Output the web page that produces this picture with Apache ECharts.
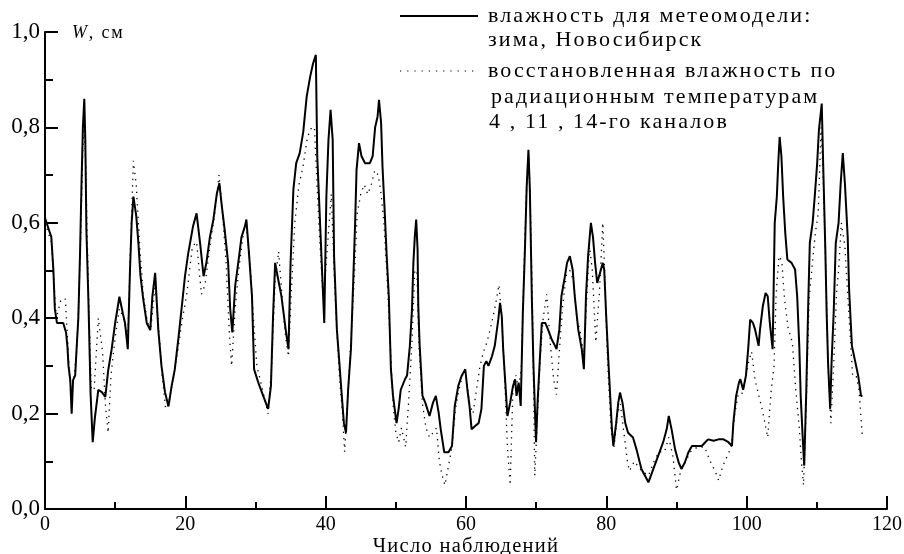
<!DOCTYPE html>
<html><head><meta charset="utf-8">
<script src="https://cdn.jsdelivr.net/npm/echarts@6/dist/echarts.min.js"></script>
<style>html,body{margin:0;padding:0;background:#fff}#c{width:904px;height:554px}</style>
</head><body><div id="c"></div>
<script>
// Solid line: humidity for the meteo model (x = observation number, y = W, cm)
const solidX = [0,0.9,1.2,1.4,1.7,2.6,3.0,3.2,3.35,3.6,3.8,4.0,4.3,4.5,4.75,5.0,5.2,5.4,5.6,5.75,5.9,6.2,6.5,6.8,7.1,7.6,8.1,8.6,9.0,9.5,10.0,10.6,11.1,11.4,11.8,12.1,12.35,12.6,13.0,13.3,13.6,14.0,14.5,15.0,15.3,15.7,16.15,16.6,17.1,17.6,18.05,18.5,19.0,19.5,19.95,20.4,21.1,21.6,22.1,22.6,23.0,23.5,24.0,24.5,24.85,25.2,25.6,26.1,26.4,26.7,27.1,27.6,28.0,28.5,28.7,29.1,29.5,29.8,30.4,31.1,31.8,32.2,32.5,32.8,33.25,33.7,34.3,34.7,35.0,35.4,35.8,36.3,36.8,37.3,37.8,38.2,38.6,38.8,39.2,39.6,39.8,40.1,40.4,40.7,41.0,41.2,41.6,41.95,42.3,42.6,42.9,43.2,43.6,43.95,44.2,44.4,44.75,45.1,45.6,46.3,46.7,47.05,47.4,47.6,47.9,48.1,48.4,48.7,49.0,49.3,49.6,50.1,50.4,50.7,51.3,51.6,52.0,52.3,52.5,52.7,52.9,53.1,53.2,53.4,53.8,54.2,54.8,55.3,55.7,56.1,56.4,56.9,57.5,58.0,58.4,58.9,59.4,59.9,60.2,60.5,60.8,61.3,61.8,62.2,62.55,62.9,63.2,63.7,64.1,64.6,64.85,65.1,65.3,65.6,65.9,66.3,66.7,67.0,67.2,67.5,67.8,68.1,68.4,68.65,68.9,69.1,69.4,69.6,69.98,70.2,70.5,70.8,71.3,71.7,72.2,72.7,72.9,73.3,73.6,74.1,74.4,74.8,75.2,75.5,76.0,76.5,76.8,77.1,77.4,77.8,78.1,78.4,78.7,79.1,79.5,79.7,79.96,80.3,80.8,81.0,81.4,81.7,81.95,82.3,82.7,83.1,83.8,84.3,85.0,86.0,86.7,87.4,88.1,88.6,88.9,89.3,89.8,90.3,90.7,91.2,91.7,92.2,93.6,94.1,94.5,95.3,96.0,96.7,97.4,97.9,98.1,98.5,98.9,99.1,99.5,99.9,100.25,100.5,100.9,101.2,101.7,101.9,102.3,102.7,103.0,103.3,103.7,104.0,104.3,104.5,104.7,104.95,105.2,105.5,105.8,106.4,106.9,107.2,107.5,107.7,108.0,108.2,108.5,108.8,109.0,109.4,109.7,110.05,110.3,110.7,110.9,111.2,111.4,111.6,111.9,112.1,112.4,112.7,113.1,113.4,113.7,114.0,114.4,114.6,115.0,115.4,115.9,116.3,116.5];
const solidY = [0.61,0.57,0.50,0.42,0.39,0.39,0.37,0.34,0.30,0.27,0.20,0.27,0.28,0.335,0.40,0.54,0.68,0.80,0.86,0.77,0.585,0.43,0.24,0.14,0.19,0.25,0.245,0.235,0.29,0.335,0.39,0.445,0.41,0.39,0.335,0.495,0.60,0.655,0.615,0.56,0.49,0.44,0.39,0.375,0.445,0.495,0.375,0.30,0.245,0.215,0.258,0.293,0.356,0.425,0.488,0.535,0.593,0.62,0.558,0.488,0.516,0.57,0.607,0.662,0.683,0.635,0.586,0.516,0.418,0.37,0.467,0.523,0.57,0.593,0.607,0.53,0.446,0.293,0.265,0.237,0.21,0.258,0.404,0.516,0.48,0.446,0.376,0.335,0.516,0.67,0.725,0.746,0.79,0.865,0.907,0.934,0.952,0.74,0.60,0.46,0.39,0.655,0.774,0.837,0.774,0.53,0.376,0.307,0.237,0.18,0.16,0.25,0.335,0.488,0.60,0.711,0.767,0.74,0.725,0.725,0.74,0.80,0.823,0.858,0.81,0.718,0.628,0.53,0.446,0.293,0.237,0.18,0.21,0.25,0.272,0.28,0.342,0.418,0.516,0.57,0.607,0.544,0.425,0.342,0.237,0.223,0.195,0.223,0.237,0.202,0.167,0.119,0.119,0.132,0.216,0.258,0.28,0.293,0.25,0.216,0.167,0.174,0.18,0.21,0.30,0.31,0.30,0.32,0.342,0.397,0.432,0.404,0.335,0.265,0.195,0.223,0.258,0.272,0.237,0.265,0.216,0.411,0.544,0.676,0.753,0.67,0.432,0.307,0.14,0.223,0.307,0.39,0.39,0.376,0.356,0.342,0.335,0.376,0.446,0.488,0.516,0.53,0.502,0.446,0.376,0.335,0.293,0.446,0.53,0.60,0.57,0.516,0.474,0.495,0.516,0.502,0.411,0.307,0.167,0.132,0.18,0.223,0.244,0.223,0.18,0.16,0.15,0.125,0.084,0.056,0.084,0.112,0.14,0.167,0.195,0.167,0.125,0.098,0.084,0.098,0.119,0.132,0.132,0.14,0.146,0.143,0.146,0.146,0.14,0.132,0.18,0.237,0.265,0.272,0.25,0.28,0.342,0.397,0.39,0.376,0.342,0.376,0.425,0.453,0.446,0.39,0.335,0.60,0.655,0.725,0.78,0.74,0.655,0.579,0.523,0.516,0.502,0.446,0.342,0.237,0.146,0.091,0.25,0.446,0.558,0.60,0.655,0.725,0.795,0.85,0.725,0.55,0.411,0.307,0.21,0.307,0.411,0.558,0.60,0.683,0.746,0.683,0.57,0.46,0.342,0.314,0.279,0.237,0.237];

// Dotted line: humidity restored from radiation temperatures of channels 4, 11, 14
const dotX = [0,0.9,1.3,1.6,2.3,2.9,3.2,3.5,3.8,4.1,4.5,4.8,5.1,5.4,5.6,5.8,6.0,6.3,6.6,7.0,7.6,8.2,8.6,9.0,9.4,10.0,10.6,11.2,11.8,12.2,12.6,13.0,13.5,14.0,14.6,15.1,15.7,16.2,16.7,17.2,17.6,18.1,19.0,19.6,20.2,21.0,21.6,22.3,22.8,23.5,24.2,24.8,25.3,25.8,26.3,26.6,27.1,27.6,28.2,28.8,29.3,29.7,30.2,31.0,31.8,32.3,32.8,33.3,33.8,34.3,34.7,35.1,35.6,36.2,36.8,37.4,38.0,38.4,38.8,39.2,39.6,40.0,40.4,40.8,41.2,41.6,42.0,42.4,42.7,43.1,43.5,44.0,44.5,45.0,45.5,46.0,46.5,47.0,47.5,47.9,48.3,48.7,49.1,49.6,50.0,50.4,50.8,51.4,51.8,52.3,52.7,53.0,53.3,53.8,54.3,54.8,55.3,55.8,56.2,56.6,57.0,57.5,58.0,58.5,59.0,59.5,60.0,60.5,61.0,61.5,62.0,62.5,63.0,63.5,64.1,64.7,65.1,65.5,65.9,66.3,66.7,67.1,67.5,67.9,68.3,68.7,68.95,69.2,69.5,69.8,70.2,70.6,71.0,71.5,72.0,72.5,72.9,73.3,73.8,74.3,74.8,75.3,75.8,76.3,76.8,77.2,77.6,78.0,78.5,79.0,79.5,79.8,80.2,80.7,81.1,81.6,82.0,82.5,83.0,83.3,84.0,85.0,86.0,86.8,87.5,88.3,88.9,89.5,90.0,90.6,91.3,92.0,93.0,94.0,94.8,95.5,96.0,96.6,97.2,97.8,98.3,98.8,99.3,99.8,100.3,100.7,101.2,101.7,102.2,102.6,103.0,103.5,103.9,104.2,104.6,105.0,105.4,105.9,106.5,107.0,107.5,107.8,108.1,108.5,108.9,109.4,109.8,110.2,110.6,110.9,111.2,111.6,112.0,112.4,112.8,113.1,113.5,114.0,114.6,115.1,115.6,116.0,116.5];
const dotY = [0.60,0.56,0.47,0.40,0.44,0.44,0.36,0.28,0.24,0.27,0.33,0.43,0.58,0.76,0.80,0.72,0.58,0.40,0.25,0.25,0.40,0.33,0.22,0.16,0.28,0.36,0.42,0.40,0.36,0.55,0.73,0.68,0.55,0.45,0.39,0.38,0.47,0.38,0.28,0.21,0.22,0.26,0.34,0.40,0.45,0.55,0.56,0.45,0.47,0.55,0.62,0.70,0.62,0.52,0.36,0.30,0.42,0.50,0.57,0.58,0.50,0.40,0.30,0.25,0.20,0.30,0.48,0.54,0.44,0.36,0.32,0.45,0.60,0.68,0.72,0.78,0.80,0.80,0.67,0.55,0.45,0.50,0.58,0.66,0.50,0.37,0.27,0.20,0.12,0.22,0.33,0.46,0.62,0.66,0.68,0.66,0.68,0.71,0.70,0.66,0.60,0.50,0.38,0.22,0.16,0.14,0.17,0.13,0.22,0.35,0.50,0.50,0.34,0.22,0.17,0.15,0.16,0.17,0.10,0.07,0.05,0.09,0.13,0.21,0.25,0.28,0.28,0.22,0.20,0.25,0.30,0.33,0.35,0.38,0.42,0.47,0.40,0.28,0.13,0.05,0.26,0.28,0.25,0.30,0.52,0.70,0.74,0.62,0.40,0.07,0.20,0.32,0.40,0.45,0.35,0.27,0.24,0.33,0.43,0.49,0.50,0.48,0.40,0.37,0.32,0.44,0.55,0.50,0.35,0.45,0.60,0.48,0.30,0.16,0.13,0.20,0.22,0.16,0.10,0.08,0.10,0.08,0.07,0.10,0.12,0.12,0.15,0.11,0.04,0.08,0.10,0.12,0.13,0.13,0.10,0.08,0.06,0.09,0.11,0.13,0.20,0.24,0.24,0.27,0.31,0.33,0.27,0.24,0.21,0.18,0.15,0.25,0.30,0.45,0.53,0.52,0.44,0.38,0.35,0.25,0.17,0.10,0.05,0.22,0.44,0.52,0.58,0.62,0.80,0.70,0.55,0.30,0.18,0.30,0.45,0.50,0.60,0.55,0.40,0.28,0.28,0.25,0.15];

const xTicks = [0, 20, 40, 60, 80, 100, 120];
const yTicks = [0.0, 0.2, 0.4, 0.6, 0.8, 1.0];
const legendSolid = ['влажность для метеомодели:', 'зима, Новосибирск'];
const legendDotted = ['восстановленная влажность по', 'радиационным температурам', '4 , 11 , 14-го каналов'];
const xName = 'Число наблюдений';

// Spaced typesetting of the original (letter spacing keyed by font size)
(function () {
  const spacing = {'22px': '2.1px', '20.5px': '1.3px', '18px': '1.8px'};
  const proto = CanvasRenderingContext2D.prototype;
  if (!('letterSpacing' in proto)) return;
  const apply = ctx => {
    const m = /(\d+(?:\.\d+)?px)/.exec(ctx.font || '');
    ctx.letterSpacing = (m && spacing[m[1]]) || '0px';
  };
  const ft = proto.fillText, mt = proto.measureText;
  proto.fillText = function () { apply(this); return ft.apply(this, arguments); };
  proto.measureText = function () { apply(this); return mt.apply(this, arguments); };
})();

const FONT = '"Liberation Serif", "DejaVu Serif", serif';
const zip = (xs, ys) => xs.map((x, i) => [x, ys[i]]);
const BLACK = '#000';
const AXIS_LAYER = 2;   // axes on their own canvas layer
const DATA_LAYER = 1;   // series + legend/annotation graphics

const chart = echarts.init(document.getElementById('c'));
const legendText = (lines, x, ys) => lines.map((t, i) => ({
  type: 'text', left: x[i], top: ys[i],
  style: {text: t, font: '22px ' + FONT, fill: BLACK}
}));
const tickOnlyAxis = (min, max, interval, len, position) => ({
  type: 'value', min, max, interval, position, zlevel: AXIS_LAYER,
  axisLine: {show: false}, axisLabel: {show: false}, splitLine: {show: false},
  axisTick: {show: true, inside: true, length: len, lineStyle: {color: BLACK, width: 2}}
});

chart.setOption({
  animation: false,
  grid: {left: 45, right: 17, top: 32, bottom: 45, containLabel: false, outerBoundsMode: 'none'},
  xAxis: [{
    type: 'value', min: xTicks[0], max: xTicks[xTicks.length - 1], interval: 20, position: 'bottom',
    zlevel: AXIS_LAYER,
    name: xName, nameLocation: 'middle', nameGap: 26, nameMoveOverlap: false,
    nameTextStyle: {fontFamily: FONT, fontSize: 20.5, color: BLACK},
    axisLine: {show: true, onZero: false, lineStyle: {color: BLACK, width: 2}},
    axisTick: {show: true, inside: true, length: 13, lineStyle: {color: BLACK, width: 2}},
    splitLine: {show: false},
    axisLabel: {fontFamily: FONT, fontSize: 20, color: BLACK, margin: 6}
  }, tickOnlyAxis(0, 120, 10, 7, 'bottom')],
  yAxis: [{
    type: 'value', min: yTicks[0], max: yTicks[yTicks.length - 1], interval: 0.2, position: 'left',
    zlevel: AXIS_LAYER,
    axisLine: {show: true, onZero: false, lineStyle: {color: BLACK, width: 2}},
    axisTick: {show: true, inside: true, length: 13, lineStyle: {color: BLACK, width: 2}},
    splitLine: {show: false},
    axisLabel: {fontFamily: FONT, fontSize: 23, color: BLACK, margin: 5,
      formatter: v => v.toFixed(1).replace('.', ',')}
  }, tickOnlyAxis(0, 1, 0.1, 8, 'left')],
  graphic: {
    elements: [
      {type: 'text', left: 72, top: 23, zlevel: DATA_LAYER,
       style: {rich: {i: {fontStyle: 'italic', fontFamily: FONT, fontSize: 18, fill: BLACK},
                      n: {fontFamily: FONT, fontSize: 18, fill: BLACK}},
               text: '{i|W}{n|, см}'}},
      {type: 'line', zlevel: DATA_LAYER, shape: {x1: 400, y1: 16, x2: 478, y2: 16}, style: {stroke: BLACK, lineWidth: 2}},
      {type: 'line', zlevel: DATA_LAYER, shape: {x1: 400, y1: 71, x2: 478, y2: 71}, style: {stroke: BLACK, lineWidth: 1.2, lineDash: [1.2, 6]}},
      ...legendText(legendSolid, [488, 488], [4, 28]).map(e => Object.assign(e, {zlevel: DATA_LAYER})),
      ...legendText(legendDotted, [488, 491, 489], [59, 85, 110]).map(e => Object.assign(e, {zlevel: DATA_LAYER}))
    ]
  },
  series: [
    {type: 'line', zlevel: DATA_LAYER, data: zip(solidX, solidY), symbol: 'none',
     lineStyle: {color: BLACK, width: 2}},
    {type: 'line', zlevel: DATA_LAYER, data: zip(dotX, dotY), symbol: 'none',
     lineStyle: {color: BLACK, width: 1.3, type: [1.3, 5]}}
  ]
});
</script></body></html>
